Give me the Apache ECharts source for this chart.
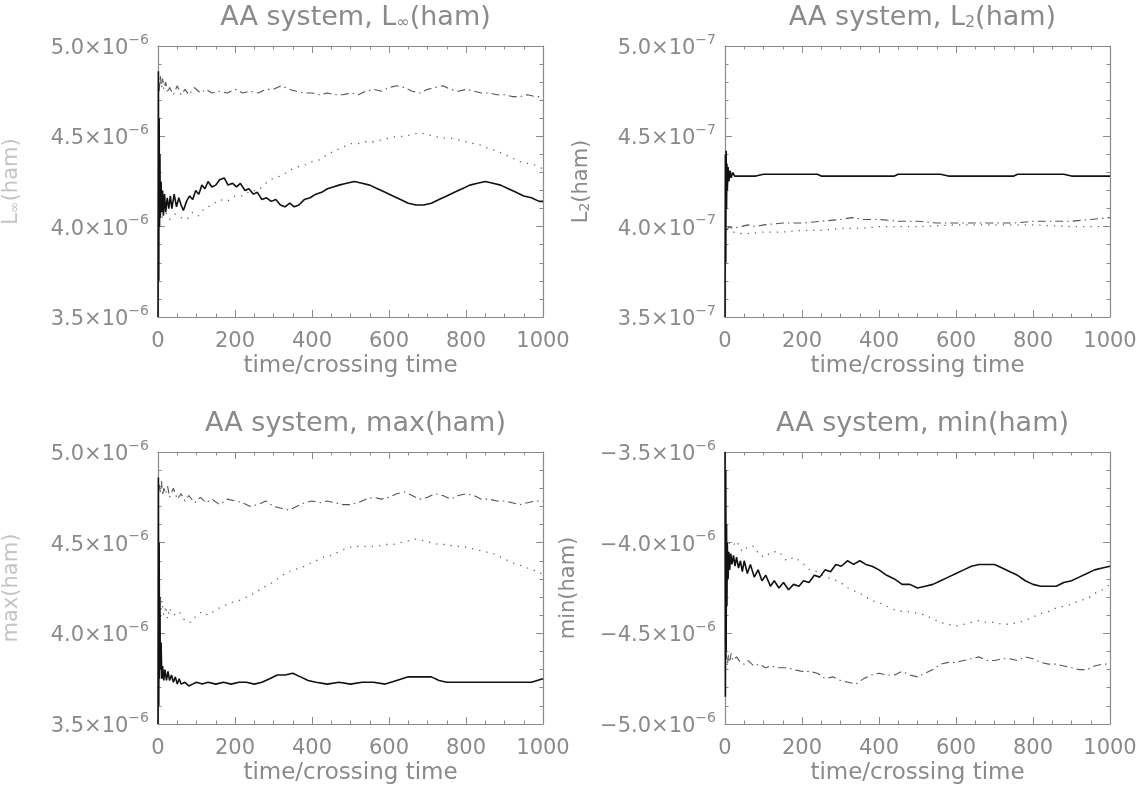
<!DOCTYPE html>
<html>
<head>
<meta charset="utf-8">
<script src="https://cdn.jsdelivr.net/npm/echarts@6/dist/echarts.min.js"></script>
<style>
html,body{margin:0;padding:0;background:#fff;}
#c{width:1142px;height:792px;}
</style>
</head>
<body>
<div id="c"></div>
<script>
// ---- DATA (values in units of 10^exp, t = time/crossing time) ----
const panelTitles = ['AA system, L{sub|∞}(ham)', 'AA system, L{sub|2}(ham)', 'AA system, max(ham)', 'AA system, min(ham)'];
const yNames = ['L{sub|∞}(ham)', 'L{sub|2}(ham)', 'max(ham)', 'min(ham)'];
const yExponents = ['−6', '−7', '−6', '−6'];
const yMins = [3.5, 3.5, 3.5, -5.0];
const yMaxs = [5.0, 5.0, 5.0, -3.5];
const xLabelName = 'time/crossing time';

// Panel 1: L_inf(ham) x1e-6
const linfSolid = [[0,3.5],[1,4.86],[2,3.7],[3,4.6],[4,4.0],[5,4.4],[6,4.05],[8,4.25],[10,4.08],[12,4.2],[14,4.06],[17,4.18],[20,4.08],[24,4.16],[28,4.1],[32,4.17],[36,4.1],[42,4.18],[48,4.11],[54,4.16],[60,4.12],[66,4.09],[74,4.14],[82,4.17],[90,4.15],[98,4.2],[106,4.18],[114,4.23],[122,4.21],[130,4.25],[140,4.22],[150,4.23],[160,4.26],[172,4.27],[182,4.23],[194,4.24],[204,4.22],[214,4.24],[226,4.2],[236,4.21],[248,4.18],[258,4.19],[270,4.15],[282,4.16],[294,4.14],[306,4.15],[318,4.12],[330,4.11],[342,4.13],[354,4.11],[366,4.12],[380,4.15],[395,4.16],[410,4.18],[425,4.19],[440,4.21],[455,4.22],[470,4.23],[490,4.24],[510,4.25],[530,4.24],[550,4.23],[570,4.21],[590,4.19],[610,4.17],[630,4.15],[650,4.13],[670,4.12],[690,4.12],[710,4.13],[730,4.15],[750,4.17],[770,4.19],[790,4.21],[810,4.23],[830,4.24],[850,4.25],[870,4.24],[890,4.23],[910,4.21],[930,4.19],[950,4.17],[970,4.16],[990,4.14],[1000,4.14]];
const linfDotted = [[10,4.05],[20,4.08],[30,4.04],[45,4.07],[60,4.05],[75,4.04],[90,4.08],[105,4.06],[120,4.1],[140,4.12],[160,4.15],[180,4.14],[200,4.17],[220,4.17],[240,4.2],[260,4.2],[280,4.24],[300,4.27],[320,4.28],[340,4.31],[360,4.33],[380,4.34],[400,4.36],[420,4.37],[440,4.4],[460,4.42],[480,4.44],[500,4.46],[520,4.46],[540,4.47],[560,4.47],[580,4.48],[600,4.49],[620,4.5],[640,4.5],[660,4.51],[680,4.52],[700,4.51],[720,4.5],[740,4.49],[760,4.49],[780,4.48],[800,4.47],[820,4.46],[840,4.45],[860,4.43],[880,4.42],[900,4.4],[920,4.38],[940,4.36],[960,4.35],[980,4.34],[1000,4.32]];
const linfDashDot = [[3,4.75],[6,4.84],[9,4.77],[12,4.82],[15,4.76],[20,4.8],[25,4.74],[30,4.77],[40,4.73],[50,4.78],[60,4.73],[70,4.76],[80,4.73],[95,4.77],[110,4.74],[125,4.76],[140,4.74],[160,4.75],[180,4.74],[200,4.76],[220,4.74],[240,4.75],[260,4.74],[280,4.76],[300,4.76],[320,4.78],[340,4.76],[360,4.75],[380,4.74],[400,4.74],[420,4.73],[440,4.74],[460,4.73],[480,4.73],[500,4.74],[520,4.73],[540,4.75],[560,4.76],[580,4.75],[600,4.77],[620,4.78],[640,4.77],[660,4.75],[680,4.74],[700,4.76],[720,4.77],[740,4.78],[760,4.76],[780,4.75],[800,4.76],[820,4.75],[840,4.74],[860,4.74],[880,4.73],[900,4.73],[920,4.72],[940,4.72],[960,4.73],[980,4.72],[1000,4.72]];

// Panel 2: L_2(ham) x1e-7
const l2Solid = [[0,3.5],[1,4.4],[2,3.8],[3,4.42],[4,4.1],[5,4.35],[6,4.2],[8,4.33],[10,4.25],[13,4.31],[16,4.27],[20,4.3],[25,4.28],[30,4.29],[40,4.28],[60,4.28],[80,4.28],[100,4.29],[150,4.29],[200,4.29],[240,4.29],[250,4.28],[300,4.28],[350,4.28],[400,4.28],[440,4.28],[450,4.29],[500,4.29],[560,4.29],[580,4.28],[650,4.28],[700,4.28],[750,4.28],[760,4.29],[800,4.29],[880,4.29],[900,4.28],[1000,4.28]];
const l2Dotted = [[5,3.99],[20,3.97],[50,3.96],[100,3.97],[150,3.97],[200,3.98],[250,3.98],[300,3.99],[350,3.99],[400,4.0],[500,4.0],[600,4.01],[700,4.01],[800,4.01],[900,4.0],[1000,4.0]];
const l2DashDot = [[5,3.98],[10,4.0],[20,3.99],[40,4.0],[60,4.01],[80,4.0],[100,4.01],[150,4.02],[200,4.02],[250,4.03],[300,4.04],[330,4.05],[360,4.04],[400,4.04],[450,4.03],[500,4.03],[550,4.02],[600,4.02],[650,4.02],[700,4.02],[750,4.02],[800,4.03],[850,4.03],[900,4.03],[950,4.04],[1000,4.05]];

// Panel 3: max(ham) x1e-6
const maxSolid = [[0,3.5],[1,4.86],[2,3.6],[3,4.5],[4,3.75],[5,4.2],[6,3.8],[8,3.95],[10,3.75],[12,3.82],[15,3.74],[18,3.8],[22,3.74],[26,3.79],[30,3.74],[35,3.77],[40,3.73],[45,3.76],[50,3.72],[55,3.75],[60,3.72],[70,3.73],[80,3.71],[90,3.72],[100,3.73],[115,3.72],[130,3.73],[150,3.72],[170,3.73],[190,3.72],[210,3.73],[230,3.73],[250,3.72],[270,3.73],[290,3.75],[310,3.77],[330,3.77],[350,3.78],[370,3.76],[390,3.74],[410,3.73],[440,3.72],[470,3.73],[500,3.72],[530,3.73],[560,3.73],[590,3.72],[620,3.74],[650,3.76],[680,3.76],[710,3.76],[730,3.74],[750,3.73],[780,3.73],[820,3.73],[860,3.73],[900,3.73],[940,3.73],[970,3.73],[1000,3.75]];
const maxDotted = [[5,4.05],[10,4.18],[15,4.1],[20,4.15],[25,4.08],[30,4.14],[40,4.1],[55,4.12],[70,4.07],[85,4.06],[100,4.1],[115,4.12],[130,4.1],[150,4.13],[170,4.15],[190,4.17],[210,4.18],[230,4.2],[250,4.22],[270,4.25],[290,4.27],[310,4.3],[330,4.33],[350,4.35],[370,4.36],[390,4.38],[410,4.4],[430,4.42],[450,4.43],[470,4.45],[490,4.47],[510,4.48],[530,4.48],[550,4.48],[570,4.48],[590,4.49],[610,4.49],[630,4.5],[650,4.51],[670,4.52],[690,4.51],[710,4.5],[730,4.49],[750,4.49],[770,4.48],[790,4.48],[810,4.47],[830,4.46],[850,4.45],[870,4.44],[890,4.42],[910,4.4],[930,4.38],[950,4.37],[970,4.35],[990,4.34],[1000,4.32]];
const maxDashDot = [[3,4.82],[6,4.78],[9,4.84],[12,4.76],[15,4.8],[20,4.77],[25,4.81],[30,4.75],[40,4.8],[50,4.74],[60,4.77],[70,4.73],[80,4.76],[95,4.72],[110,4.75],[125,4.72],[140,4.74],[160,4.71],[180,4.74],[200,4.73],[220,4.72],[240,4.7],[260,4.71],[280,4.73],[300,4.7],[320,4.69],[340,4.68],[360,4.7],[380,4.72],[400,4.73],[420,4.72],[440,4.73],[460,4.72],[480,4.71],[500,4.71],[520,4.72],[540,4.74],[560,4.75],[580,4.74],[600,4.75],[620,4.77],[640,4.78],[660,4.76],[680,4.74],[700,4.75],[720,4.77],[740,4.76],[760,4.74],[780,4.76],[800,4.77],[820,4.76],[840,4.74],[860,4.74],[880,4.73],[900,4.73],[920,4.72],[940,4.71],[960,4.72],[980,4.73],[1000,4.73]];

// Panel 4: min(ham) x1e-6
const minSolid = [[0,-3.5],[1,-4.85],[2,-3.6],[3,-4.6],[4,-3.9],[5,-4.35],[6,-4.0],[8,-4.2],[10,-4.05],[12,-4.15],[15,-4.06],[18,-4.12],[22,-4.07],[26,-4.13],[30,-4.08],[35,-4.14],[40,-4.1],[45,-4.16],[50,-4.1],[58,-4.17],[66,-4.12],[76,-4.19],[86,-4.15],[96,-4.21],[106,-4.18],[118,-4.24],[128,-4.21],[140,-4.25],[152,-4.22],[165,-4.26],[178,-4.23],[192,-4.24],[204,-4.21],[218,-4.22],[232,-4.18],[246,-4.19],[260,-4.15],[274,-4.16],[288,-4.12],[302,-4.13],[318,-4.1],[334,-4.12],[350,-4.1],[366,-4.12],[382,-4.13],[400,-4.15],[420,-4.18],[440,-4.2],[460,-4.23],[480,-4.23],[500,-4.25],[520,-4.24],[540,-4.23],[560,-4.21],[580,-4.19],[600,-4.17],[620,-4.15],[640,-4.13],[660,-4.12],[680,-4.12],[700,-4.12],[720,-4.14],[740,-4.16],[760,-4.18],[780,-4.21],[800,-4.23],[820,-4.24],[840,-4.24],[860,-4.24],[880,-4.22],[900,-4.21],[920,-4.19],[940,-4.17],[960,-4.15],[980,-4.14],[1000,-4.13]];
const minDotted = [[10,-4.0],[20,-4.02],[30,-3.99],[45,-4.05],[60,-4.02],[75,-4.02],[90,-4.07],[105,-4.08],[120,-4.05],[140,-4.05],[160,-4.1],[180,-4.08],[200,-4.11],[220,-4.15],[240,-4.16],[260,-4.19],[280,-4.2],[300,-4.22],[320,-4.25],[340,-4.27],[360,-4.29],[380,-4.32],[400,-4.33],[420,-4.35],[440,-4.37],[460,-4.38],[480,-4.38],[500,-4.39],[520,-4.4],[540,-4.42],[560,-4.44],[580,-4.45],[600,-4.46],[620,-4.45],[640,-4.44],[660,-4.43],[680,-4.44],[700,-4.44],[720,-4.45],[740,-4.45],[760,-4.44],[780,-4.43],[800,-4.41],[820,-4.39],[840,-4.38],[860,-4.36],[880,-4.35],[900,-4.34],[920,-4.32],[940,-4.31],[960,-4.28],[980,-4.26],[1000,-4.23]];
const minDashDot = [[3,-4.6],[6,-4.68],[9,-4.62],[12,-4.66],[16,-4.61],[20,-4.65],[30,-4.63],[40,-4.66],[50,-4.67],[60,-4.65],[75,-4.68],[90,-4.67],[105,-4.69],[120,-4.68],[140,-4.69],[160,-4.69],[180,-4.7],[200,-4.71],[220,-4.71],[240,-4.72],[260,-4.75],[280,-4.74],[300,-4.76],[320,-4.77],[340,-4.78],[360,-4.75],[380,-4.73],[400,-4.72],[420,-4.73],[440,-4.73],[460,-4.71],[480,-4.73],[500,-4.74],[520,-4.72],[540,-4.7],[560,-4.67],[580,-4.66],[600,-4.66],[620,-4.65],[640,-4.64],[660,-4.63],[680,-4.65],[700,-4.65],[720,-4.64],[740,-4.64],[760,-4.65],[780,-4.63],[800,-4.64],[820,-4.66],[840,-4.67],[860,-4.67],[880,-4.68],[900,-4.69],[920,-4.7],[940,-4.7],[960,-4.68],[980,-4.67],[1000,-4.67]];

const panelSeries = [
  [linfSolid, linfDotted, linfDashDot],
  [l2Solid, l2Dotted, l2DashDot],
  [maxSolid, maxDotted, maxDashDot],
  [minSolid, minDotted, minDashDot]
];

// ---- LAYOUT / STYLE ----
const grids = [
  {left:158, top:46, width:385, height:271},
  {left:725, top:46, width:385, height:271},
  {left:158, top:452, width:385, height:272},
  {left:725, top:452, width:385, height:272}
];
const nameGaps = [136, 133, 136, 146];
const nameColors = ['#c4c4c4', '#8a8a8a', '#c4c4c4', '#8a8a8a'];
const FONT = '"DejaVu Sans", sans-serif';
const TXT = '#8a8a8a';
const FRAME = '#8a8a8a';

const lineStyles = [
  {color:'#111', width:1.6, type:'solid'},
  {color:'#666', width:1.3, type:[1.3, 6]},
  {color:'#555', width:1.1, type:[8, 4, 1.5, 4]}
];

function fmtVal(v){
  const s = Math.abs(v).toFixed(1);
  return (v < 0 ? '−' : '') + s;
}

const option = {
  animation:false,
  backgroundColor:'#fff',
  title:[], grid:[], xAxis:[], yAxis:[], series:[]
};

const richTitle = {
  sub:{fontSize:16, fontFamily:FONT, color:TXT, verticalAlign:'bottom'}
};

grids.forEach((g, i) => {
  option.grid.push(Object.assign({containLabel:false}, g));
  option.title.push({
    text: panelTitles[i],
    left: g.left + g.width/2,
    textAlign:'center',
    top: g.top - 47,
    textStyle:{fontFamily:FONT, fontSize:27, fontWeight:'normal', color:TXT, rich:richTitle}
  });
  const axisCommon = {
    type:'value', gridIndex:i,
    axisLine:{show:true, onZero:false, lineStyle:{color:FRAME, width:1.2}},
    splitLine:{show:false},
    axisTick:{show:true, inside:true, length:7, lineStyle:{color:FRAME}},
    minorTick:{show:true, length:3.5, lineStyle:{color:FRAME}},
  };
  // bottom x
  option.xAxis.push(Object.assign({}, axisCommon, {
    position:'bottom', min:0, max:1000, interval:200,
    minorTick:Object.assign({}, axisCommon.minorTick, {splitNumber:4}),
    axisLabel:{show:true, color:TXT, fontFamily:FONT, fontSize:21, margin:14,
      formatter: v => String(v)},
    name:xLabelName, nameLocation:'middle', nameGap:38,
    nameTextStyle:{color:TXT, fontFamily:FONT, fontSize:23}
  }));
  // top x (ticks only)
  option.xAxis.push(Object.assign({}, axisCommon, {
    position:'top', min:0, max:1000, interval:200,
    minorTick:Object.assign({}, axisCommon.minorTick, {splitNumber:4}),
    axisLabel:{show:false}
  }));
  // left y
  option.yAxis.push(Object.assign({}, axisCommon, {
    position:'left', min:yMins[i], max:yMaxs[i], interval:0.5,
    minorTick:Object.assign({}, axisCommon.minorTick, {splitNumber:5}),
    axisLabel:{show:true, margin:9, color:TXT, fontFamily:FONT,
      formatter: v => '{b|' + fmtVal(v) + '×10}{s|' + yExponents[i] + '}',
      rich:{
        b:{fontSize:21, color:TXT, fontFamily:FONT, verticalAlign:'bottom', lineHeight:26},
        s:{fontSize:14, color:TXT, fontFamily:FONT, verticalAlign:'top', lineHeight:26}
      }
    },
    name:yNames[i], nameLocation:'middle', nameGap:nameGaps[i], nameRotate:90,
    nameTextStyle:{color:nameColors[i], fontFamily:FONT, fontSize:21,
      rich:{sub:{fontSize:14, color:nameColors[i], fontFamily:FONT, verticalAlign:'bottom'}}}
  }));
  // right y
  option.yAxis.push(Object.assign({}, axisCommon, {
    position:'right', min:yMins[i], max:yMaxs[i], interval:0.5,
    minorTick:Object.assign({}, axisCommon.minorTick, {splitNumber:5}),
    axisLabel:{show:false}
  }));
  panelSeries[i].forEach((data, k) => {
    option.series.push({
      type:'line', xAxisIndex:2*i, yAxisIndex:2*i, data:data,
      showSymbol:false, symbol:'none', clip:true, z: 3 - k,
      lineStyle:lineStyles[k]
    });
  });
});

const chart = echarts.init(document.getElementById('c'), null, {renderer:'canvas'});
chart.setOption(option);
</script>
</body>
</html>
